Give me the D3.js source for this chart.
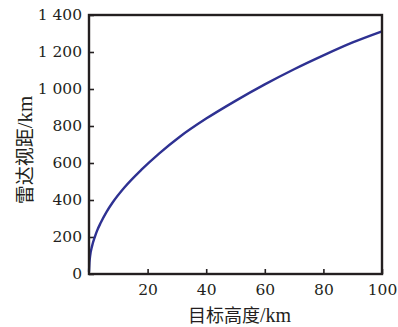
<!DOCTYPE html>
<html><head><meta charset="utf-8">
<script src="https://cdn.jsdelivr.net/npm/d3@7"></script>
<style>
html,body{margin:0;padding:0;background:#fff;}
svg{display:block;}
</style></head>
<body>
<svg id="c" width="398" height="327"></svg>
<script>
const heightKm = [0, 0.15, 0.4, 1, 2, 2.7, 4, 6, 8, 12, 18, 24, 31, 40, 50, 60, 70, 80, 90, 100];
const rangeKm  = [12, 60, 100, 148, 201, 232, 277, 336, 385, 466, 565, 652, 742, 840, 936, 1025, 1107, 1182, 1252, 1312];
const xTicks = [20, 40, 60, 80, 100];
const yTicks = [0, 200, 400, 600, 800, 1000, 1200, 1400];
const xTitle = ["目标高度", "/km"];
const yTitle = ["雷达视距", "/km"];

const svg = d3.select("#c");
const L = 89, R = 382, T = 15, B = 274;
const x = d3.scaleLinear().domain([0, 100]).range([L, R]);
const y = d3.scaleLinear().domain([0, 1400]).range([B, T]);
const numFont = "'DejaVu Serif', 'Liberation Serif', serif";
const latFont = "'Liberation Serif', serif";
const cjkFont = "'Noto Sans CJK SC', sans-serif";

// y axis
const yAx = svg.append("g").attr("transform", `translate(${L},0)`)
  .call(d3.axisLeft(y).tickValues(yTicks).tickSize(-5).tickPadding(8).tickFormat(v => d3.format(",")(v).replace(/,/g, " ")));
yAx.select(".domain").remove();
yAx.selectAll("line").attr("stroke", "#231f20").attr("stroke-width", 1.6);
yAx.selectAll("text").attr("font-family", numFont).attr("font-size", 15.5).attr("fill", "#231f20").attr("x", -7);

// x axis
const xAx = svg.append("g").attr("transform", `translate(0,${B})`)
  .call(d3.axisBottom(x).tickValues(xTicks).tickSize(-5).tickPadding(8));
xAx.select(".domain").remove();
xAx.selectAll("line").attr("stroke", "#231f20").attr("stroke-width", 1.6);
xAx.selectAll("text").attr("font-family", numFont).attr("font-size", 15.5).attr("fill", "#231f20").attr("y", 8).attr("dy", "0.85em");

// curve
const line = d3.line().x((d, i) => x(heightKm[i])).y(d => y(d)).curve(d3.curveMonotoneX);
svg.append("path").attr("d", line(rangeKm)).attr("fill", "none")
  .attr("stroke", "#2e3192").attr("stroke-width", 2.4).attr("stroke-linejoin", "round");

// frame
svg.append("rect").attr("x", L).attr("y", T).attr("width", R - L).attr("height", B - T)
  .attr("fill", "none").attr("stroke", "#231f20").attr("stroke-width", 2.4);

// titles
const xt = svg.append("text").attr("x", (L + R) / 2 + 4).attr("y", 322).attr("text-anchor", "middle")
  .attr("font-size", 18).attr("fill", "#231f20");
xt.append("tspan").attr("font-family", cjkFont).text(xTitle[0]);
xt.append("tspan").attr("font-family", latFont).attr("font-size", 20).text(xTitle[1]);
const yt = svg.append("text").attr("transform", "translate(32,150) rotate(-90)").attr("text-anchor", "middle")
  .attr("font-size", 19).attr("fill", "#231f20");
yt.append("tspan").attr("font-family", cjkFont).text(yTitle[0]);
yt.append("tspan").attr("font-family", latFont).attr("font-size", 21).text(yTitle[1]);
</script>
</body></html>
